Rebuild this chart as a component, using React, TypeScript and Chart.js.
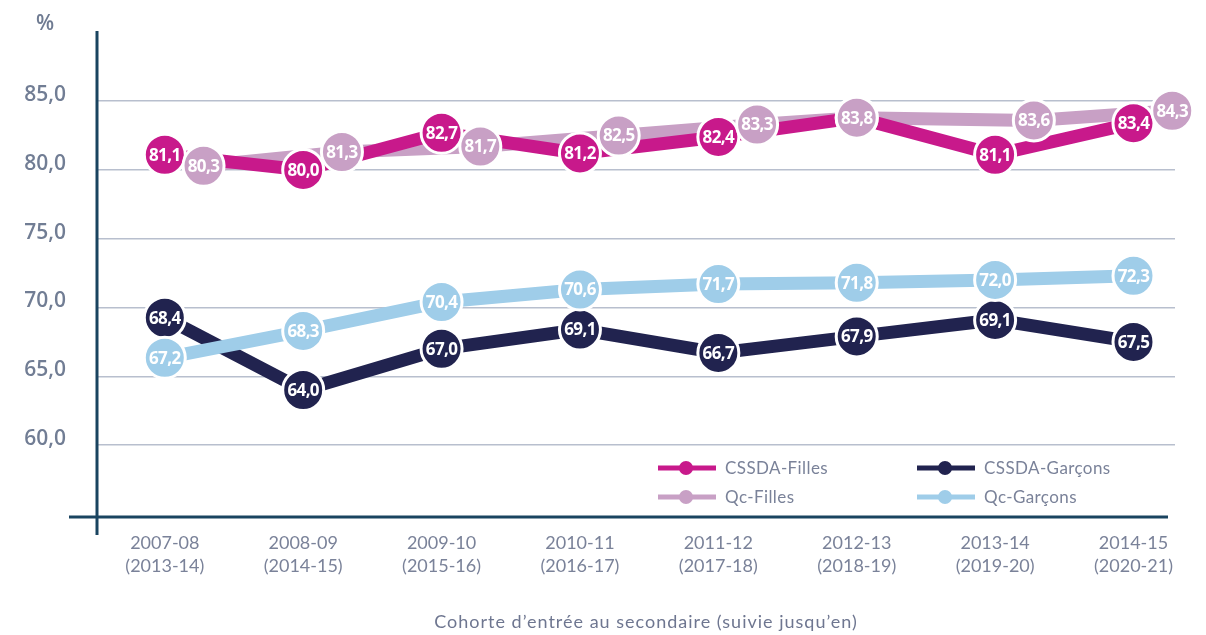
import React, { useEffect, useRef } from 'react';
import { Chart, registerables } from 'chart.js';

Chart.register(...registerables);

const categories = ['2007-08', '2008-09', '2009-10', '2010-11', '2011-12', '2012-13', '2013-14', '2014-15'];
const followUpYears = ['(2013-14)', '(2014-15)', '(2015-16)', '(2016-17)', '(2017-18)', '(2018-19)', '(2019-20)', '(2020-21)'];
const cssdaFilles = [81.1, 80.0, 82.7, 81.2, 82.4, 83.8, 81.1, 83.4];
const qcFilles = [80.3, 81.3, 81.7, 82.5, 83.3, 83.8, 83.6, 84.3];
const cssdaGarcons = [68.4, 64.0, 67.0, 69.1, 66.7, 67.9, 69.1, 67.5];
const qcGarcons = [67.2, 68.3, 70.4, 70.6, 71.7, 71.8, 72.0, 72.3];
const yTickValues = [60, 65, 70, 75, 80, 85];
const seriesNames = ['CSSDA-Filles', 'Qc-Filles', 'CSSDA-Garçons', 'Qc-Garçons'];
const axisTitle = 'Cohorte d’entrée au secondaire (suivie jusqu’en)';
const unitLabel = '%';

const COLORS = {
  cssdaF: '#c8198b',
  qcF: '#c8a0c5',
  cssdaG: '#21234f',
  qcG: '#9fcde9',
};

const fmt = (v: number) => v.toFixed(1).replace('.', ',');
const toXY = (arr: number[]) => arr.map((y, i) => ({ x: i, y }));

export default function App() {
  const canvasRef = useRef<HTMLCanvasElement | null>(null);

  useEffect(() => {
    document.body.style.margin = '0';
    const canvas = canvasRef.current;
    if (!canvas) return;

    const declutterPlugin = {
      id: 'declutterPlugin',
      afterDatasetsUpdate(chart: any) {
        const xs = chart.scales.x;
        const step = xs.getPixelForValue(1) - xs.getPixelForValue(0);
        const metas = chart.data.datasets.map((_: any, i: number) => chart.getDatasetMeta(i));
        chart.data.datasets.forEach((ds: any, i: number) => {
          if (!ds.xShift) return;
          metas[i].data.forEach((pt: any, j: number) => {
            if (ds.mergeWith && ds.mergeWith[j] === ds.data[j].y) return;
            pt.x += ds.xShift * step;
          });
        });
        const groups: Record<string, number[]> = {};
        chart.data.datasets.forEach((ds: any, i: number) => {
          if (!ds.group) return;
          (groups[ds.group] = groups[ds.group] || []).push(i);
        });
        const minSep = 40;
        Object.values(groups).forEach((idxs) => {
          const bySeries: Record<string, number[]> = {};
          idxs.forEach((i) => {
            const k = chart.data.datasets[i].label;
            (bySeries[k] = bySeries[k] || []).push(i);
          });
          const keys = Object.keys(bySeries);
          if (keys.length !== 2) return;
          const a = bySeries[keys[0]];
          const b = bySeries[keys[1]];
          const n = metas[a[0]].data.length;
          for (let j = 0; j < n; j++) {
            const ya = metas[a[0]].data[j].y;
            const yb = metas[b[0]].data[j].y;
            const d = Math.abs(ya - yb);
            if (d >= minSep) continue;
            const push = (minSep - d) / 2;
            const dirA = ya <= yb ? -1 : 1;
            a.forEach((i) => (metas[i].data[j].y += dirA * push));
            b.forEach((i) => (metas[i].data[j].y -= dirA * push));
          }
        });
      },
    };

    const axesPlugin = {
      id: 'axesPlugin',
      beforeDatasetsDraw(chart: any) {
        const { ctx, chartArea } = chart;
        ctx.save();
        ctx.strokeStyle = '#1a4460';
        ctx.lineWidth = 3;
        ctx.beginPath();
        ctx.moveTo(chartArea.left, chartArea.top);
        ctx.lineTo(chartArea.left, chartArea.bottom + 18);
        ctx.moveTo(chartArea.left - 28, chartArea.bottom);
        ctx.lineTo(chartArea.right - 7, chartArea.bottom);
        ctx.stroke();
        ctx.restore();
      },
      afterDraw(chart: any) {
        const { ctx, chartArea } = chart;
        ctx.save();
        ctx.fillStyle = '#6f7b92';
        ctx.font = '600 21px "Open Sans"';
        ctx.textAlign = 'center';
        ctx.textBaseline = 'middle';
        ctx.fillText(unitLabel, 45, 24);

        // x-axis title
        ctx.font = '18px Lato';
        (ctx as any).letterSpacing = '1px';
        ctx.fillStyle = '#6e7690';
        ctx.fillText(axisTitle, chartArea.left + (chartArea.right - chartArea.left) / 2 + 10, 622);

        const items = [
          { name: seriesNames[0], color: COLORS.cssdaF, col: 0, row: 0 },
          { name: seriesNames[2], color: COLORS.cssdaG, col: 1, row: 0 },
          { name: seriesNames[1], color: COLORS.qcF, col: 0, row: 1 },
          { name: seriesNames[3], color: COLORS.qcG, col: 1, row: 1 },
        ];
        const colX = [chartArea.right - 517, chartArea.right - 258];
        const rowY = [chartArea.bottom - 49, chartArea.bottom - 20];
        ctx.font = '17px Lato';
        (ctx as any).letterSpacing = '0.4px';
        ctx.textAlign = 'left';
        items.forEach((it) => {
          const x0 = colX[it.col];
          const y0 = rowY[it.row];
          ctx.strokeStyle = it.color;
          ctx.lineWidth = 5;
          ctx.beginPath();
          ctx.moveTo(x0, y0);
          ctx.lineTo(x0 + 58, y0);
          ctx.stroke();
          ctx.fillStyle = it.color;
          ctx.beginPath();
          ctx.arc(x0 + 28, y0, 7, 0, Math.PI * 2);
          ctx.fill();
          ctx.fillStyle = '#7a8299';
          ctx.fillText(it.name, x0 + 67, y0 + 1);
        });
        ctx.restore();
      },
    };

    const labelsPlugin = {
      id: 'labelsPlugin',
      afterDatasetDraw(chart: any, args: any) {
        const ds: any = chart.data.datasets[args.index];
        if (!ds.showValues) return;
        const ctx = chart.ctx;
        ctx.save();
        ctx.font = 'bold 17px "Open Sans"';
        (ctx as any).letterSpacing = '-0.6px';
        ctx.fillStyle = '#ffffff';
        ctx.textAlign = 'center';
        ctx.textBaseline = 'middle';
        args.meta.data.forEach((pt: any, j: number) => {
          ctx.fillText(fmt(ds.data[j].y), pt.x, pt.y + 1);
        });
        ctx.restore();
      },
    };

    const lineDs = (label: string, data: number[], color: string, order: number, extra: any = {}) => ({
      label,
      data: toXY(data),
      borderColor: color,
      backgroundColor: color,
      borderWidth: 13,
      pointRadius: 0,
      showLine: true,
      clip: false,
      order,
      ...extra,
    });
    const pointDs = (label: string, data: number[], color: string, order: number, extra: any = {}) => ({
      label,
      data: toXY(data),
      borderColor: '#ffffff',
      backgroundColor: color,
      borderWidth: 3,
      pointRadius: 20.5,
      pointBorderWidth: 3,
      showLine: false,
      clip: false,
      order,
      showValues: true,
      ...extra,
    });

    const shiftQc = { xShift: 0.28, mergeWith: cssdaFilles };
    const boys = { group: 'garcons' };

    const chart = new Chart(canvas, {
      type: 'line',
      data: {
        datasets: [
          lineDs(seriesNames[1], qcFilles, COLORS.qcF, 10, shiftQc),
          lineDs(seriesNames[0], cssdaFilles, COLORS.cssdaF, 9),
          lineDs(seriesNames[2], cssdaGarcons, COLORS.cssdaG, 8, boys),
          lineDs(seriesNames[3], qcGarcons, COLORS.qcG, 7, boys),
          pointDs(seriesNames[0], cssdaFilles, COLORS.cssdaF, 6),
          pointDs(seriesNames[1], qcFilles, COLORS.qcF, 5, shiftQc),
          pointDs(seriesNames[2], cssdaGarcons, COLORS.cssdaG, 4, boys),
          pointDs(seriesNames[3], qcGarcons, COLORS.qcG, 3, boys),
        ] as any,
      },
      options: {
        animation: false,
        responsive: false,
        devicePixelRatio: 1,
        events: [],
        layout: { padding: { top: 31, right: 31, left: 0, bottom: 0 } },
        plugins: {
          legend: { display: false },
          tooltip: { enabled: false },
        },
        scales: {
          x: {
            type: 'linear',
            min: -0.49,
            max: 7.3,
            afterBuildTicks: (scale: any) => {
              scale.ticks = categories.map((_, i) => ({ value: i }));
            },
            afterFit: (scale: any) => {
              scale.height = 118;
              scale.paddingLeft = 0;
              scale.paddingRight = 0;
              scale.paddingTop = 0;
              scale.paddingBottom = 0;
            },
            grid: { display: false, drawTicks: false },
            border: { display: false },
            ticks: {
              autoSkip: false,
              maxRotation: 0,
              padding: 15,
              color: '#7a8299',
              font: { family: 'Lato', size: 18, lineHeight: 1.25 },
              callback: (v: any) => {
                const i = Math.round(Number(v));
                return [categories[i], followUpYears[i]];
              },
            },
            title: { display: false },
          },
          y: {
            type: 'linear',
            min: 54.77,
            max: 90.1,
            afterBuildTicks: (scale: any) => {
              scale.ticks = yTickValues.map((v) => ({ value: v }));
            },
            afterFit: (scale: any) => {
              scale.width = 97;
              scale.paddingTop = 0;
              scale.paddingBottom = 0;
              scale.paddingLeft = 0;
              scale.paddingRight = 0;
            },
            grid: { color: '#b8bfce', lineWidth: 1.5, drawTicks: false },
            border: { display: false },
            ticks: {
              padding: 31,
              labelOffset: -6,
              color: '#717d94',
              font: { family: 'Open Sans', size: 21, weight: '600' },
              callback: (v: any) => fmt(Number(v)),
            },
          },
        },
      } as any,
      plugins: [declutterPlugin, axesPlugin, labelsPlugin],
    });

    return () => chart.destroy();
  }, []);

  return (
    <div style={{ width: 1206, height: 635, background: '#ffffff' }}>
      <canvas ref={canvasRef} width={1206} height={635} />
    </div>
  );
}
